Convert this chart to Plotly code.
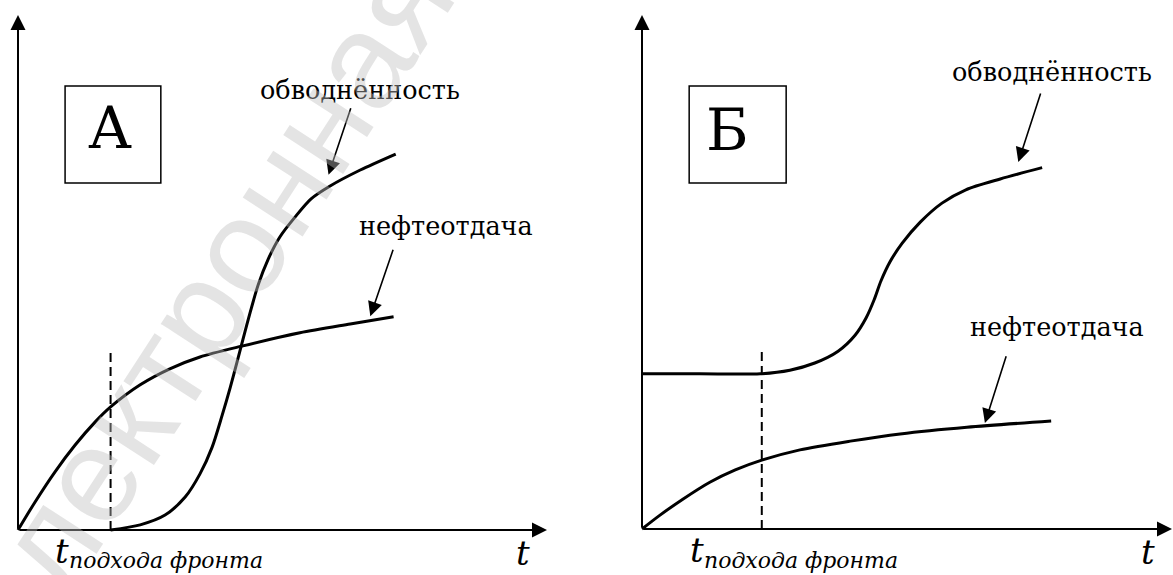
import plotly.graph_objects as go

W, H = 1173, 575
SERIF = "DejaVu Serif"

# ---------------- data (conceptual units: t and value, 0..100 axes) ----------------
# Panel A
a_oil_t = [0, 3.2, 7.0, 10.8, 14.6, 17.5, 23.1, 28.7, 34.4, 42.3, 53.3, 62.8, 71.0]
a_oil_v = [0, 5.4, 11.3, 16.5, 21.0, 23.9, 28.2, 31.3, 33.6, 35.7, 38.3, 40.0, 41.4]
a_wat_t = [17.5, 23.1, 27.8, 31.6, 34.4, 36.7, 38.6, 40.1, 41.4, 42.5, 43.9, 45.4, 47.3,
           49.5, 52.4, 55.4, 59.0, 64.7, 71.4]
a_wat_v = [0, 1.0, 2.9, 6.4, 10.9, 16.1, 22.3, 27.6, 32.6, 36.9, 42.3, 47.6, 52.6,
           56.9, 60.8, 64.3, 66.8, 69.9, 73.0]
a_front_t = 17.5
a_front_top = 35.3

# Panel B
b_oil_t = [0, 3.4, 7.7, 12.8, 17.6, 22.6, 29.8, 39.3, 48.7, 61.3, 77.2]
b_oil_v = [0, 2.7, 5.8, 9.1, 11.5, 13.4, 15.4, 17.1, 18.5, 19.8, 21.0]
b_wat_t = [0, 10.9, 22.3, 27.9, 32.6, 37.0, 40.2, 42.3, 43.8, 45.1, 46.8, 49.1, 52.5,
           56.6, 61.1, 67.6, 75.5]
b_wat_v = [30.2, 30.2, 30.2, 30.9, 32.3, 34.6, 37.7, 41.1, 44.6, 48.3, 52.0, 55.6, 59.7,
           63.4, 66.0, 68.1, 70.3]
b_front_t = 22.6
b_front_top = 34.8

labels_water = "обводнённость"
labels_oil = "нефтеотдача"
panel_names = ["А", "Б"]
front_sub = "подхода фронта"

# ---------------- pixel geometry of each panel ----------------
PA = dict(ox=18, oy=530, sx=5.29, sy=5.15, dom=(0.0, 0.5))
PB = dict(ox=642, oy=529, sx=5.30, sy=5.14, dom=(0.5, 1.0))


def ranges(p):
    x0 = p["dom"][0] * W
    x1 = p["dom"][1] * W
    xr = [(x0 - p["ox"]) / p["sx"], (x1 - p["ox"]) / p["sx"]]
    yr = [(p["oy"] - H) / p["sy"], p["oy"] / p["sy"]]
    return xr, yr


fig = go.Figure()

line = dict(color="black", width=3, shape="spline", smoothing=0.8)
dash = dict(color="black", width=2, dash="9px,5px")

fig.add_trace(go.Scatter(x=a_oil_t, y=a_oil_v, mode="lines", line=line, xaxis="x", yaxis="y"))
fig.add_trace(go.Scatter(x=a_wat_t, y=a_wat_v, mode="lines", line=line, xaxis="x", yaxis="y"))
fig.add_trace(go.Scatter(x=[a_front_t, a_front_t], y=[0, a_front_top], mode="lines",
                         line=dash, xaxis="x", yaxis="y"))

fig.add_trace(go.Scatter(x=b_oil_t, y=b_oil_v, mode="lines", line=line, xaxis="x2", yaxis="y2"))
fig.add_trace(go.Scatter(x=b_wat_t, y=b_wat_v, mode="lines", line=line, xaxis="x2", yaxis="y2"))
fig.add_trace(go.Scatter(x=[b_front_t, b_front_t], y=[0, b_front_top], mode="lines",
                         line=dash, xaxis="x2", yaxis="y2"))

ann = []
shapes = []


def arrow(xr, yr, tail, tip, width, size):
    ann.append(dict(xref=xr, yref=yr, axref=xr, ayref=yr, x=tip[0], y=tip[1], ax=tail[0], ay=tail[1],
                    text="", showarrow=True, arrowhead=2, arrowsize=size, arrowwidth=width,
                    arrowcolor="black", standoff=0, startstandoff=0))


def text(xr, yr, x, y, s, size, italic=False, xanchor="center"):
    ann.append(dict(xref=xr, yref=yr, x=x, y=y, text=("<i>%s</i>" % s) if italic else s,
                    showarrow=False, xanchor=xanchor, yanchor="middle",
                    font=dict(family=SERIF, size=size, color="black")))


panels = [
    ("x", "y", dict(water=(64.6, 85.4), wat_tail=(63.0, 82.2), wat_tip=(58.7, 69.0),
                   oil=(80.9, 59.0), oil_tail=(71.0, 54.7), oil_tip=(66.6, 41.5),
                   box=(8.9, 67.4, 27.0, 86.2), name=panel_names[0], name_xy=(17.3, 78.0),
                   tlab=6.6, sub_y=-6.0)),
    ("x2", "y2", dict(water=(77.4, 88.9), wat_tail=(75.3, 85.0), wat_tip=(71.0, 71.4),
                     oil=(78.3, 39.3), oil_tail=(68.8, 33.9), oil_tip=(64.7, 20.6),
                     box=(8.9, 67.3, 27.2, 86.2), name=panel_names[1], name_xy=(16.2, 77.7),
                     tlab=8.7, sub_y=-6.2)),
]

for xr, yr, d in panels:
    arrow(xr, yr, (0, 0), (100, 0), 2, 1.5)
    arrow(xr, yr, (0, 0), (0, 100), 2, 1.5)
    text(xr, yr, d["water"][0], d["water"][1], labels_water, 25.5)
    arrow(xr, yr, d["wat_tail"], d["wat_tip"], 1.6, 1.8)
    text(xr, yr, d["oil"][0], d["oil"][1], labels_oil, 25.5)
    arrow(xr, yr, d["oil_tail"], d["oil_tip"], 1.6, 1.8)
    bx0, by0, bx1, by1 = d["box"]
    shapes.append(dict(type="rect", xref=xr, yref=yr, x0=bx0, y0=by0, x1=bx1, y1=by1,
                       line=dict(color="black", width=1.5), fillcolor="rgba(0,0,0,0)"))
    text(xr, yr, d["name_xy"][0], d["name_xy"][1], d["name"], 58)
    text(xr, yr, 95.4, -4.5, "t", 34, italic=True)
    text(xr, yr, d["tlab"], -4.0, "t", 34, italic=True, xanchor="left")
    text(xr, yr, d["tlab"] + 2.7, d["sub_y"], front_sub, 22, italic=True, xanchor="left")

# faint watermark overlay
ann.append(dict(xref="paper", yref="paper", x=0.175, y=0.478, xanchor="center", yanchor="middle",
                text="электронная", showarrow=False, textangle=-57,
                font=dict(family="Liberation Sans", size=135, color="rgba(190,190,190,0.42)")))

xa, ya = ranges(PA)
xb, yb = ranges(PB)

fig.update_layout(
    width=W, height=H, margin=dict(l=0, r=0, t=0, b=0),
    paper_bgcolor="white", plot_bgcolor="white", showlegend=False,
    font=dict(family=SERIF),
    xaxis=dict(domain=list(PA["dom"]), range=xa, visible=False, fixedrange=True),
    yaxis=dict(domain=[0, 1], range=ya, visible=False, fixedrange=True, anchor="x"),
    xaxis2=dict(domain=list(PB["dom"]), range=xb, visible=False, fixedrange=True, anchor="y2"),
    yaxis2=dict(domain=[0, 1], range=yb, visible=False, fixedrange=True, anchor="x2"),
    annotations=ann, shapes=shapes,
)

fig.write_html("out.html", config={"displayModeBar": False},
               post_script="document.body.style.margin='0';document.body.style.padding='0';document.body.style.overflow='hidden';")
